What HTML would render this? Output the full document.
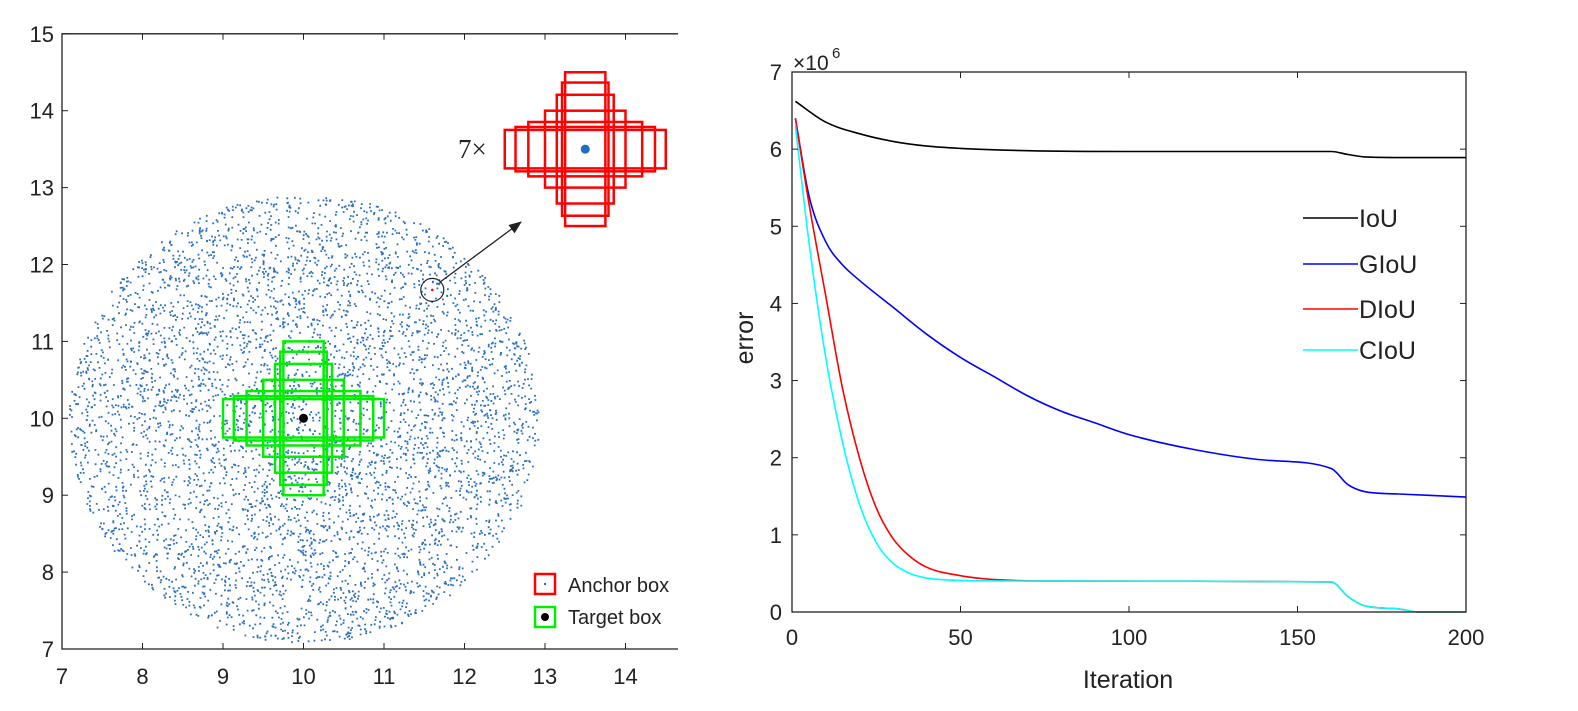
<!DOCTYPE html>
<html><head><meta charset="utf-8">
<style>
html,body{margin:0;padding:0;background:#fff;}
svg{display:block;font-family:"Liberation Sans",Arial,sans-serif;}
</style></head>
<body>
<svg id="fig" width="1578" height="711" viewBox="0 0 1578 711" xmlns="http://www.w3.org/2000/svg">
<rect width="1578" height="711" fill="#fff"/>
<g id="left"></g>
<g id="right"></g>
</svg>
<script>
// ---------- Left plot data ----------
const leftXTicks = [7,8,9,10,11,12,13,14];
const leftYTicks = [7,8,9,10,11,12,13,14,15];
const boxRatios = [4,3,2,1,0.5,1/3,0.25]; // width/height, area = 1
const targetCenter = [10,10];
const anchorCenter = [13.5,13.5];
const sampleAnchor = [11.6,11.67];
const arrowEnd = [12.7,12.55];
const scatterCenter = [10,10];
const scatterRadius = 2.92;
// ---------- Right plot data ----------
const rightXTicks = [0,50,100,150,200];
const rightYTicks = [0,1,2,3,4,5,6,7];
const iouX  = [1,10,20,30,40,50,70,100,160,165,170,185,200];
const iouY  = [6.62,6.35,6.2,6.1,6.04,6.01,5.98,5.97,5.97,5.93,5.9,5.89,5.89];
const giouX = [1,5,10,15,20,30,40,50,60,70,80,90,100,120,140,160,165,170,180,200];
const giouY = [6.4,5.4,4.8,4.5,4.3,3.95,3.6,3.3,3.05,2.8,2.6,2.45,2.3,2.1,1.97,1.86,1.65,1.56,1.53,1.49];
const diouX = [1,5,10,15,20,25,30,35,40,50,60,80,160,165,170,180,186,200];
const diouY = [6.4,5.3,4.1,2.9,2.0,1.35,0.95,0.72,0.58,0.47,0.42,0.4,0.39,0.2,0.08,0.04,0.0,0.0];
const ciouX = [1,5,10,15,20,25,30,35,40,50,80,160,165,170,180,186,200];
const ciouY = [6.3,4.8,3.3,2.2,1.4,0.9,0.63,0.5,0.44,0.41,0.4,0.39,0.2,0.08,0.04,0.0,0.0];
const seriesNames = ["IoU","GIoU","DIoU","CIoU"];
const seriesColors = ["#000000","#0000ff","#ff0000","#00ffff"];

const NS="http://www.w3.org/2000/svg";
function mk(parent,tag,attrs,text){const e=document.createElementNS(NS,tag);for(const k in attrs)e.setAttribute(k,attrs[k]);if(text!==undefined)e.textContent=text;parent.appendChild(e);return e;}

// ---- Left axes ----
const L=document.getElementById('left');
const lx=v=>62+(v-7)*80.5, ly=v=>649-(v-7)*76.9;
const LR=678;
let seed=12345;function rnd(){seed=(seed*1103515245+12345)%2147483648;return seed/2147483648;}
const sc=mk(L,'g',{fill:'#2a6fbf'});


let d='';
for(let i=0;i<5200;i++){const r=scatterRadius*Math.sqrt(rnd()),a=rnd()*Math.PI*2;const px=lx(scatterCenter[0]+r*Math.cos(a)),py=ly(scatterCenter[1]+r*Math.sin(a));d+=`M${px.toFixed(1)} ${py.toFixed(1)}h1.8v1.8h-1.8z`;}
mk(sc,'path',{d:d});
function boxes(c,color,name){const g=mk(L,'g',{fill:'none',stroke:color,'stroke-width':2.5});

for(const r of boxRatios){const w=Math.sqrt(r),h=1/w;const el=mk(g,'rect',{x:lx(c[0]-w/2),y:ly(c[1]+h/2),width:lx(c[0]+w/2)-lx(c[0]-w/2),height:ly(c[1]-h/2)-ly(c[1]+h/2)});
}}
boxes(targetCenter,'#00ee00','target-boxes');
boxes(anchorCenter,'#ff0000','anchor-boxes');
let e=mk(L,'circle',{cx:lx(targetCenter[0]),cy:ly(targetCenter[1]),r:4.5,fill:'#000'});

e=mk(L,'circle',{cx:lx(anchorCenter[0]),cy:ly(anchorCenter[1]),r:4.5,fill:'#1f6fbf'});

e=mk(L,'circle',{cx:lx(sampleAnchor[0]),cy:ly(sampleAnchor[1]),r:11.5,fill:'none',stroke:'#222','stroke-width':1.2});

mk(L,'circle',{cx:lx(sampleAnchor[0]),cy:ly(sampleAnchor[1]),r:1.3,fill:'#f00'});
mk(L,'defs',{}).innerHTML='<marker id="ah" markerWidth="10" markerHeight="8" refX="9" refY="4" orient="auto"><path d="M0,0 L10,4 L0,8 z" fill="#222"/></marker>';
e=mk(L,'line',{x1:lx(sampleAnchor[0])+8,y1:ly(sampleAnchor[1])-8,x2:lx(arrowEnd[0]),y2:ly(arrowEnd[1]),stroke:'#222','stroke-width':1.3,'marker-end':'url(#ah)'});

e=mk(L,'text',{x:458,y:158,'font-family':'Liberation Serif,serif','font-size':27,fill:'#222'},'7×');

e=mk(L,'path',{d:`M${LR} ${ly(7)}H62V${ly(15)}H${LR}`,fill:'none',stroke:'#222','stroke-width':1.3});

for(const t of leftXTicks){mk(L,'line',{x1:lx(t),x2:lx(t),y1:ly(7),y2:ly(7)-6,stroke:'#222'});mk(L,'line',{x1:lx(t),x2:lx(t),y1:ly(15),y2:ly(15)+6,stroke:'#222'});
e=mk(L,'text',{x:lx(t),y:684,'text-anchor':'middle','font-size':22,fill:'#222'},t);}
for(const t of leftYTicks){mk(L,'line',{x1:62,x2:68,y1:ly(t),y2:ly(t),stroke:'#222'});
e=mk(L,'text',{x:54,y:ly(t)+8,'text-anchor':'end','font-size':22,fill:'#222'},t);}
const lg=mk(L,'g',{});
mk(lg,'rect',{x:535,y:574,width:20,height:20,fill:'none',stroke:'#f00','stroke-width':2.5});
mk(lg,'rect',{x:544,y:583,width:2,height:2,fill:'#1f6fbf'});
mk(lg,'rect',{x:535,y:607,width:20,height:20,fill:'none',stroke:'#00ee00','stroke-width':2.5});
mk(lg,'circle',{cx:545,cy:617,r:4,fill:'#000'});
const clip=mk(L,'clipPath',{id:'lc'});mk(clip,'rect',{x:0,y:0,width:LR,height:711});
e=mk(lg,'text',{x:568,y:592,'font-size':20,fill:'#222','clip-path':'url(#lc)'},'Anchor box');
e=mk(lg,'text',{x:568,y:624,'font-size':20,fill:'#222','clip-path':'url(#lc)'},'Target box');

// ---- Right axes ----
const R=document.getElementById('right');
const rx=v=>792+v*(1466-792)/200, ry=v=>612-v*(612-72)/7;
const xs=[iouX,giouX,diouX,ciouX], ys=[iouY,giouY,diouY,ciouY];
// monotone cubic (Fritsch-Carlson) path through data points
function monoPath(X,Y){const n=X.length,px=X.map(rx),py=Y.map(ry);const dl=[],m=[];
for(let i=0;i<n-1;i++)dl.push((py[i+1]-py[i])/(px[i+1]-px[i]));
m[0]=dl[0];m[n-1]=dl[n-2];
for(let i=1;i<n-1;i++){m[i]=(dl[i-1]*dl[i]<=0)?0:(dl[i-1]+dl[i])/2;}
for(let i=0;i<n-1;i++){if(dl[i]===0){m[i]=0;m[i+1]=0;continue;}const a=m[i]/dl[i],b=m[i+1]/dl[i],s=a*a+b*b;if(s>9){const t=3/Math.sqrt(s);m[i]=t*a*dl[i];m[i+1]=t*b*dl[i];}}
let p=`M${px[0].toFixed(1)} ${py[0].toFixed(1)}`;
for(let i=0;i<n-1;i++){const h=(px[i+1]-px[i])/3;p+=`C${(px[i]+h).toFixed(1)} ${(py[i]+m[i]*h).toFixed(1)} ${(px[i+1]-h).toFixed(1)} ${(py[i+1]-m[i+1]*h).toFixed(1)} ${px[i+1].toFixed(1)} ${py[i+1].toFixed(1)}`;}
return p;}
for(let s=0;s<4;s++){
e=mk(R,'path',{d:monoPath(xs[s],ys[s]),fill:'none',stroke:seriesColors[s],'stroke-width':1.6,'stroke-linejoin':'round'});
}
e=mk(R,'rect',{x:792,y:72,width:674,height:540,fill:'none',stroke:'#222','stroke-width':1.3});

for(const t of rightXTicks){mk(R,'line',{x1:rx(t),x2:rx(t),y1:612,y2:606,stroke:'#222'});mk(R,'line',{x1:rx(t),x2:rx(t),y1:72,y2:78,stroke:'#222'});
e=mk(R,'text',{x:rx(t),y:645,'text-anchor':'middle','font-size':22,fill:'#222'},t);}
for(const t of rightYTicks){mk(R,'line',{x1:792,x2:798,y1:ry(t),y2:ry(t),stroke:'#222'});mk(R,'line',{x1:1466,x2:1460,y1:ry(t),y2:ry(t),stroke:'#222'});
e=mk(R,'text',{x:782,y:ry(t)+8,'text-anchor':'end','font-size':22,fill:'#222'},t);}
e=mk(R,'text',{x:793,y:70,'font-size':21,fill:'#222'},'×10');
mk(R,'text',{x:832,y:58,'font-size':15,fill:'#222'},'6');
e=mk(R,'text',{x:1128,y:688,'text-anchor':'middle','font-size':25,fill:'#222'},'Iteration');
e=mk(R,'text',{x:0,y:0,'text-anchor':'middle','font-size':25,fill:'#222',transform:'translate(753,338) rotate(-90)'},'error');
const ly2=[227,273,318,359];
for(let s=0;s<4;s++){const g=mk(R,'g',{});
mk(g,'line',{x1:1303,x2:1358,y1:ly2[s]-9,y2:ly2[s]-9,stroke:seriesColors[s],'stroke-width':1.6});
mk(g,'text',{x:1359,y:ly2[s],'font-size':25,fill:'#222'},seriesNames[s]);}
</script>
</body></html>
